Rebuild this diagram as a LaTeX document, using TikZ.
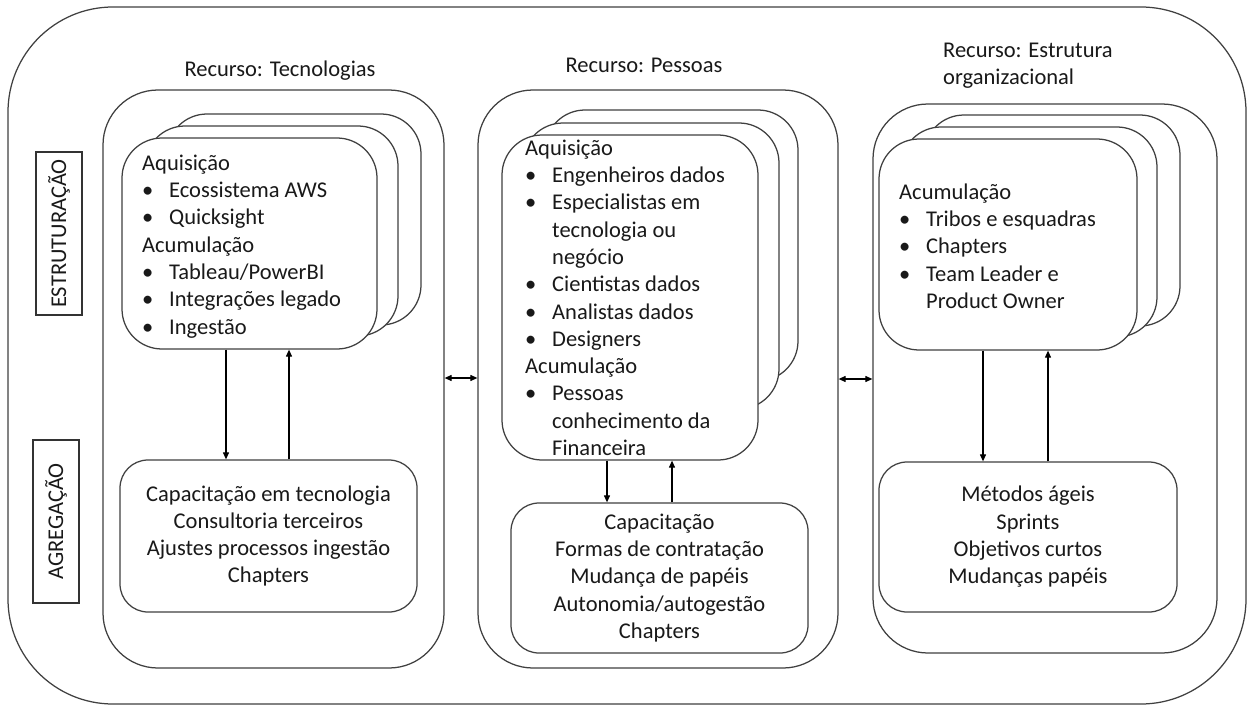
\documentclass[tikz,border=0pt]{standalone}
\usepackage{fontspec}
\setmainfont{Carlito}
\usetikzlibrary{arrows.meta}

% bullet with hanging indent, and the matching indent for wrapped lines
\newcommand{\itembul}{\makebox[27pt][l]{\textbullet}}
\newcommand{\itemind}{\hspace*{27pt}}

\begin{document}
\begin{tikzpicture}[x=1pt,y=-1pt,
  frame/.style={draw=black!75, line width=1.25pt, fill=white, rounded corners=#1, inner sep=0pt},
  frame/.default=40pt,
  txt/.style={font=\fontsize{22.5pt}{27.3pt}\selectfont, inner sep=0pt, text=black!90},
  lbl/.style={txt, draw=black!80, line width=1.1pt, rotate=90},
  arr/.style={line width=1.1pt, -{Triangle[length=7pt,width=6pt]}},
  arrtwo/.style={line width=1.1pt, {Triangle[length=7pt,width=6pt]}-{Triangle[length=7pt,width=6pt]}}
]
\useasboundingbox (0,0) rectangle (1248,706);

% outer frame
\node[frame=105pt, minimum width=1238pt, minimum height=697pt] (outer) at (627,355.5) {};

% the three resource columns
\node[frame=55pt, minimum width=341pt, minimum height=578pt] (tecCol) at (273.5,379) {};
\node[frame=55pt, minimum width=360pt, minimum height=578pt] (pesCol) at (658,379) {};
\node[frame=55pt, minimum width=344pt, minimum height=549pt] (estCol) at (1045,378.5) {};

% titles
\node[txt, anchor=base] (tecTitle) at (280,77) {Recurso: Tecnologias};
\node[txt, anchor=base] (pesTitle) at (644,73) {Recurso: Pessoas};
\node[txt, anchor=north west, align=left] (estTitle) at (943,37.9) {\strut Recurso: Estrutura\\organizacional};

% side labels
\node[lbl, minimum width=163pt, minimum height=46pt] (lblEstr) at (59,233.5) {ESTRUTURAÇÃO};
\node[lbl, minimum width=163pt, minimum height=46pt] (lblAgr) at (56,521.5) {AGREGAÇÃO};

% Tecnologias: stacked cards
\node[frame, minimum width=254pt, minimum height=211pt] (tecC3) at (294,219.5) {};
\node[frame, minimum width=253pt, minimum height=210pt] (tecC2) at (271.5,231) {};
\node[frame, minimum width=255pt, minimum height=211pt] (tecC1) at (249.5,243.5) {};
\node[txt, anchor=north west, align=left] (tecTxt) at (142,150.9) {\strut Aquisição\\
  \itembul Ecossistema AWS\\
  \itembul Quicksight\\
  Acumulação\\
  \itembul Tableau/PowerBI\\
  \itembul Integrações legado\\
  \itembul Ingestão};
\node[frame=28pt, txt, align=center, minimum width=297pt, minimum height=152pt] (tecB) at (268.5,536) {Capacitação em tecnologia\\Consultoria terceiros\\Ajustes processos ingestão\\Chapters};

% Pessoas: stacked cards
\node[frame, minimum width=253pt, minimum height=271pt] (pesC3) at (671.5,245.5) {};
\node[frame, minimum width=256pt, minimum height=286pt] (pesC2) at (651,266) {};
\node[frame, minimum width=256pt, minimum height=325pt] (pesC1) at (630,297.5) {};
\node[txt, anchor=north west, align=left] (pesTxt) at (525,135.9) {\strut Aquisição\\
  \itembul Engenheiros dados\\
  \itembul Especialistas em\\
  \itemind tecnologia ou\\
  \itemind negócio\\
  \itembul Cientistas dados\\
  \itembul Analistas dados\\
  \itembul Designers\\
  Acumulação\\
  \itembul Pessoas\\
  \itemind conhecimento da\\
  \itemind Financeira};
\node[frame=28pt, txt, align=center, minimum width=297pt, minimum height=150pt] (pesB) at (659.5,578) {Capacitação\\Formas de contratação\\Mudança de papéis\\Autonomia/autogestão\\Chapters};

% Estrutura organizacional: stacked cards
\node[frame, minimum width=256pt, minimum height=211pt] (estC3) at (1052,220.5) {};
\node[frame, minimum width=256pt, minimum height=210pt] (estC2) at (1029,232) {};
\node[frame, minimum width=258pt, minimum height=211pt] (estC1) at (1008,244.5) {};
\node[txt, anchor=north west, align=left] (estTxt) at (899,179.9) {\strut Acumulação\\
  \itembul Tribos e esquadras\\
  \itembul Chapters\\
  \itembul Team Leader e\\
  \itemind Product Owner};
\node[frame=28pt, txt, align=center, minimum width=298pt, minimum height=150pt] (estB) at (1028,537) {Métodos ágeis\\Sprints\\Objetivos curtos\\Mudanças papéis};

% vertical links between structuring and aggregation
\coordinate (tecDown) at (226,0);
\coordinate (tecUp) at (289,0);
\coordinate (pesDown) at (607,0);
\coordinate (pesUp) at (672,0);
\coordinate (estDown) at (983,0);
\coordinate (estUp) at (1048,0);
\draw[arr] (tecC1.south -| tecDown) -- (tecB.north -| tecDown);
\draw[arr] (tecB.north -| tecUp) -- (tecC1.south -| tecUp);
\draw[arr] (pesC1.south -| pesDown) -- (pesB.north -| pesDown);
\draw[arr] (pesB.north -| pesUp) -- (pesC1.south -| pesUp);
\draw[arr] (estC1.south -| estDown) -- (estB.north -| estDown);
\draw[arr] (estB.north -| estUp) -- (estC1.south -| estUp);

% links between the columns
\coordinate (linkA) at (0,378);
\coordinate (linkB) at (0,379);
\draw[arrtwo] (tecCol.east |- linkA) -- (pesCol.west |- linkA);
\draw[arrtwo] (pesCol.east |- linkB) -- (estCol.west |- linkB);
\end{tikzpicture}
\end{document}
